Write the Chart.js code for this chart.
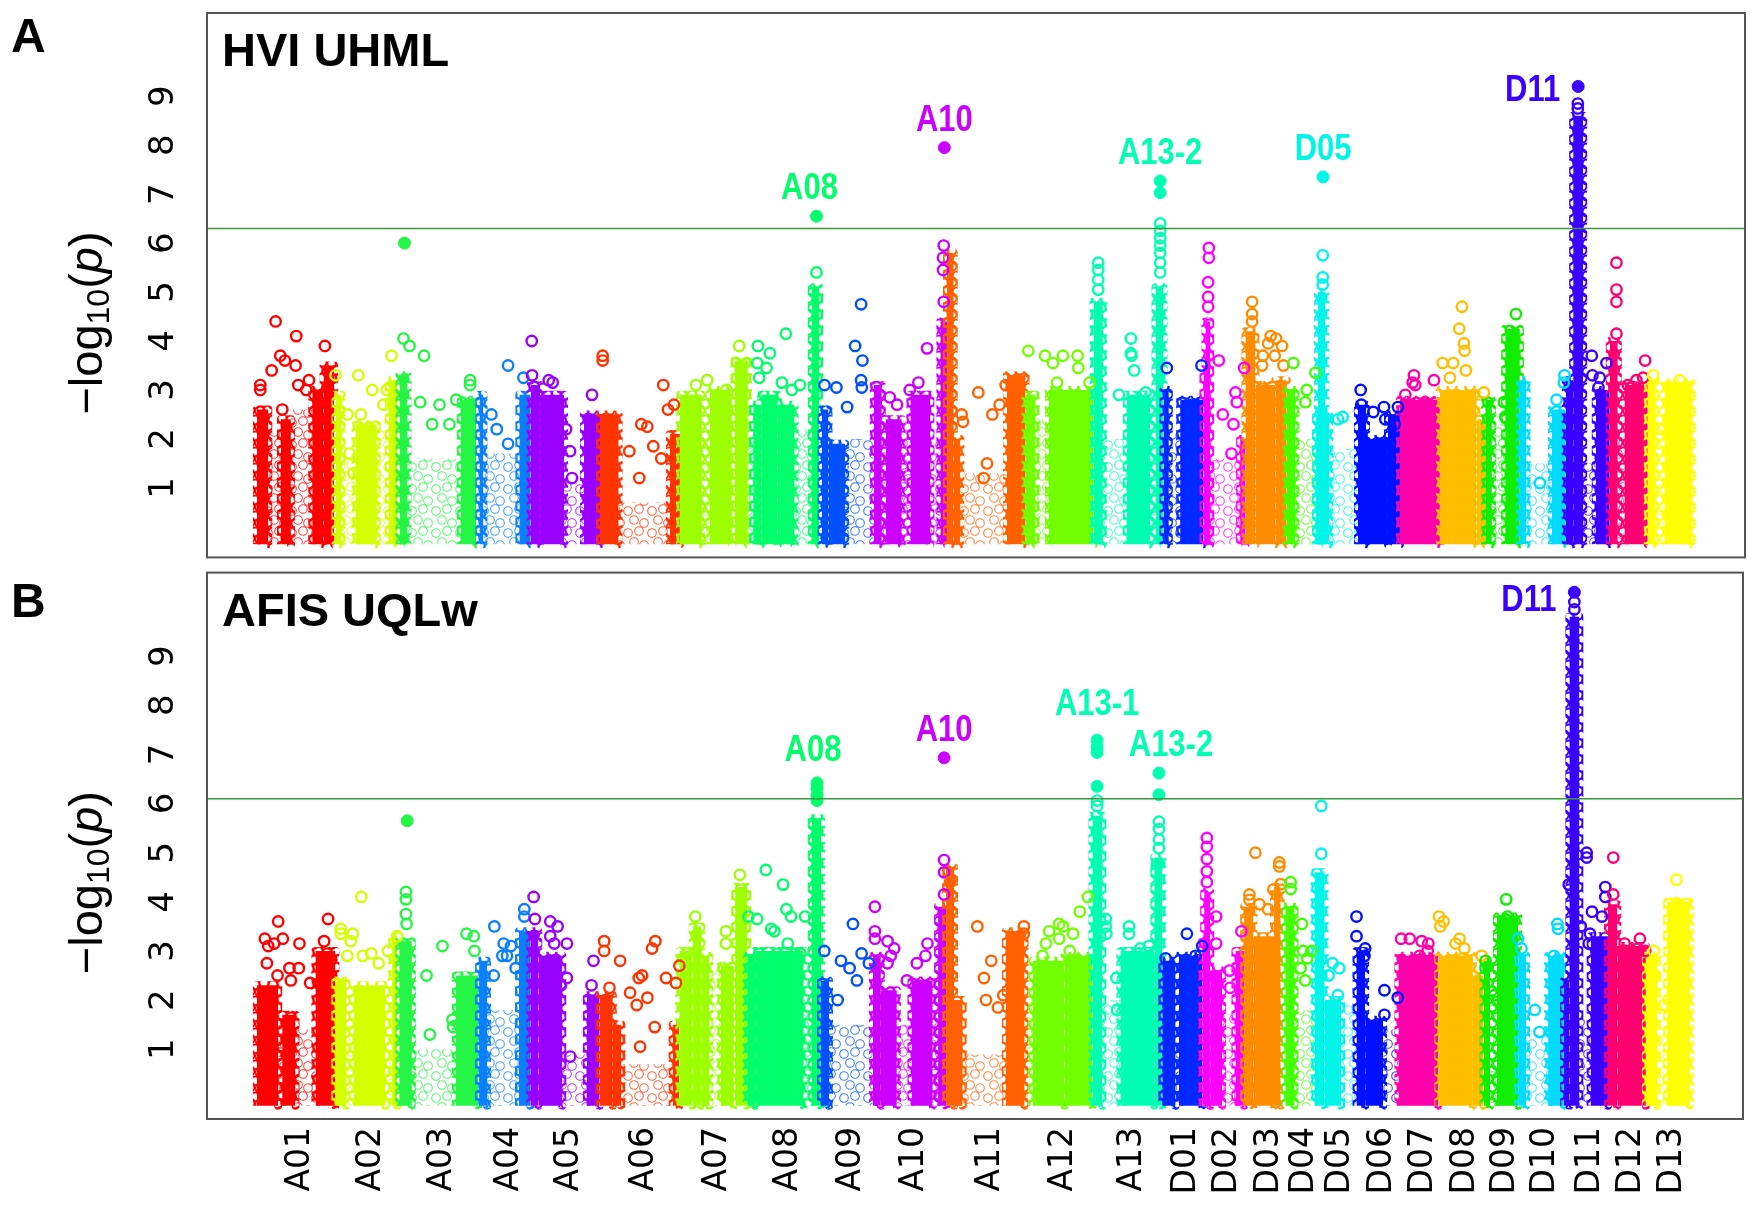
<!DOCTYPE html>
<html>
<head>
<meta charset="utf-8">
<script src="https://cdn.jsdelivr.net/npm/chart.js@4.4.0/dist/chart.umd.min.js"></script>
<style>
  html, body { margin: 0; padding: 0; background: #fff; }
  #wrap { position: relative; width: 1760px; height: 1211px; background: #fff; overflow: hidden; }
  #wrap canvas { position: absolute; left: 0; }
</style>
</head>
<body>
<div id="wrap">
  <canvas id="uhml" width="1760" height="565" style="top:0"></canvas>
  <canvas id="uqlw" width="1760" height="646" style="top:565px"></canvas>
</div>
<script>
const chromosomes = ["A01","A02","A03","A04","A05","A06","A07","A08","A09","A10","A11","A12","A13",
                     "D01","D02","D03","D04","D05","D06","D07","D08","D09","D10","D11","D12","D13"];
const chromLengthMb = [118,93,123,77,104,120,102,111,78,110,118,102,105,
                       60,63,62,44,63,63,60,68,52,69,66,57,66];
const yTicks = [1,2,3,4,5,6,7,8,9];
const uhmlThreshold = 6.3;
const uqlwThreshold = 6.1;

// HVI UHML: solid runs of markers [chromosome, from Mb, to Mb, top -log10(p)]
const uhmlDense = [
  ["A01",0,17,2.6],["A01",36,51,2.4],["A01",83,100,3.0],["A01",100,116,3.5],
  ["A02",0,9,2.9],["A02",30,62,2.3],["A02",80,93,3.2],
  ["A03",3,15,3.3],["A03",95,118,2.8],
  ["A04",0,6,2.9],["A04",60,77,2.9],
  ["A05",0,14,3.1],["A05",14,50,2.9],["A05",80,104,2.5],
  ["A06",0,28,2.5],["A06",105,120,2.1],
  ["A07",0,33,2.9],["A07",45,78,3.0],["A07",82,102,3.6],
  ["A08",8,20,2.7],["A08",20,45,2.9],["A08",45,70,2.7],["A08",96,107,5.1],
  ["A09",0,10,2.6],["A09",10,35,1.9],
  ["A10",0,12,3.1],["A10",18,42,2.4],["A10",55,85,2.9],["A10",100,110,4.4],
  ["A11",0,10,5.8],["A11",10,20,2.0],["A11",90,118,3.3],
  ["A12",0,15,2.9],["A12",35,102,3.0],
  ["A13",0,14,4.8],["A13",50,85,2.9],["A13",93,105,5.1],
  ["D01",0,8,3.0],["D01",25,60,2.8],
  ["D02",0,8,3.3],["D02",3,10,4.4],["D02",55,63,2.0],
  ["D03",0,15,4.2],["D03",15,45,3.1],["D03",45,62,3.2],
  ["D04",0,13,3.0],
  ["D05",0,20,2.5],["D05",3,14,5.0],
  ["D06",0,12,2.7],["D06",12,45,2.0],["D06",45,63,2.5],
  ["D07",0,60,2.8],
  ["D08",0,55,3.0],["D08",55,68,2.4],
  ["D09",0,10,2.8],["D09",30,52,4.25],
  ["D10",0,10,3.2],["D10",48,69,2.6],
  ["D11",0,11,3.2],["D11",11,26,8.6],["D11",45,66,3.0],
  ["D12",0,12,4.0],["D12",22,57,3.1],
  ["D13",0,12,3.2],["D13",25,66,3.15]
];
// HVI UHML: thinly scattered markers [chromosome, from Mb, to Mb, top]
const uhmlSparse = [
  ["A01",17,36,2.2],["A01",51,83,2.6],["A02",9,30,1.6],["A02",62,80,2.2],
  ["A03",15,95,1.6],["A04",6,60,1.7],["A05",50,80,1.2],["A06",28,105,0.7],
  ["A07",33,45,2.0],["A07",78,82,2.0],["A08",0,8,2.0],["A08",70,96,2.2],
  ["A09",35,78,2.0],["A10",12,18,2.0],["A10",42,55,2.0],["A10",85,100,2.0],
  ["A11",20,90,1.3],["A12",15,35,2.4],["A13",14,50,2.0],["A13",85,93,2.0],
  ["D01",8,25,2.1],["D02",10,55,1.6],["D04",13,44,2.0],["D05",20,63,1.8],
  ["D09",10,30,2.3],["D10",10,48,1.5],["D11",26,45,1.5],["D12",12,22,2.0],
  ["D13",12,25,2.0]
];
// HVI UHML: single markers [chromosome, position Mb, -log10(p)]
const uhmlSpots = [
  ["A01",5,3.1],["A01",5,3.0],["A01",28,4.4],["A01",35,3.7],["A01",42,3.6],["A01",22,3.4],["A01",59,4.1],
  ["A01",58,3.5],["A01",102,3.9],["A01",62,3.1],["A01",78,3.2],["A01",38,2.6],["A01",74,3.0],
  ["A02",0,3.3],["A02",34,3.3],["A02",55,3.0],["A02",77,3.0],["A02",84,3.7],["A02",72,2.7],["A02",18,2.5],
  ["A02",38,2.5],["A02",27,1.3],["A02",21,1.7],
  ["A03",9,4.05],["A03",18,3.9],["A03",40,3.7],["A03",34,2.75],["A03",63,2.7],["A03",88,2.8],["A03",109,3.2],
  ["A03",109,3.1],["A03",78,2.3],["A03",52,2.3],
  ["A04",43,3.5],["A04",66,3.25],["A04",18,2.5],["A04",26,2.2],["A04",43,1.9],
  ["A05",1.5,4.0],["A05",2,3.3],["A05",27,3.2],["A05",33,3.15],["A05",30,2.75],["A05",59,1.75],["A05",62,1.2],
  ["A05",53,2.2],["A05",92,2.9],
  ["A06",4,3.7],["A06",4,3.6],["A06",62,2.3],["A06",71,2.25],["A06",44,1.75],["A06",80,1.85],["A06",95,3.1],
  ["A06",102,2.6],["A06",111,2.7],["A06",92,1.6],["A06",59,1.2],
  ["A07",24,3.1],["A07",41,3.2],["A07",70,3.0],["A07",89,3.9],
  ["A08",15,3.9],["A08",33,3.75],["A08",14,3.55],["A08",28,3.45],["A08",57,4.15],["A08",17,3.25],["A08",51,3.15],
  ["A08",78,3.1],["A08",66,3.0],["A08",103,5.4],
  ["A09",4,3.1],["A09",22,3.05],["A09",38,2.65],["A09",50,3.9],["A09",59,4.75],["A09",61,3.6],["A09",59,3.2],["A09",60,3.05],
  ["A10",24,2.85],["A10",35,2.7],["A10",54,3.0],["A10",67,3.15],["A10",80,3.85],["A10",105,5.95],["A10",104,5.7],
  ["A10",104,5.45],["A10",105,4.8],
  ["A11",47,2.95],["A11",88,3.1],["A11",79,2.7],["A11",68,2.5],["A11",22,2.5],["A11",24,2.35],["A11",60,1.5],["A11",55,1.2],
  ["A12",4,3.8],["A12",29,3.7],["A12",41,3.55],["A12",56,3.7],["A12",78,3.7],["A12",79,3.45],["A12",47,3.15],["A12",96,3.15],
  ["A13",7,5.6],["A13",7,5.45],["A13",7,5.25],["A13",7,5.05],["A13",38,2.9],["A13",56,4.05],["A13",56,3.75],
  ["A13",57,3.7],["A13",61,3.4],["A13",78,2.95],["A13",100,6.4],["A13",100,6.25],["A13",100,6.1],["A13",100,5.95],
  ["A13",100,5.8],["A13",100,5.6],["A13",100,5.4],
  ["D01",5,3.45],["D01",57,3.5],
  ["D02",8,5.9],["D02",8,5.7],["D02",7,5.2],["D02",7,4.9],["D02",7,4.7],["D02",23,3.6],["D02",29,2.5],["D02",45,2.3],
  ["D02",48,2.95],["D02",50,2.75],["D02",61,3.45],["D02",42,1.7],
  ["D03",10,4.8],["D03",10,4.55],["D03",10,4.4],["D03",38,4.1],["D03",46,4.05],["D03",34,3.95],["D03",55,3.9],
  ["D03",26,3.7],["D03",44,3.7],["D03",57,3.5],["D03",25,3.5],
  ["D04",10,3.55],["D04",30,3.0],["D04",28,2.75],["D04",43,3.35],
  ["D05",10,5.75],["D05",10,5.3],["D05",10,5.15],["D05",40,2.45],["D05",33,2.4],
  ["D06",4,3.0],["D06",5,2.7],["D06",23,2.55],["D06",39,2.65],["D06",41,2.4],["D06",55,2.3],["D06",60,2.65],
  ["D07",21,3.3],["D07",19,3.15],["D07",23,3.1],["D07",51,3.2],["D07",38,2.75],["D07",8,2.9],
  ["D08",33,4.7],["D08",29,4.25],["D08",36,3.95],["D08",37,3.8],["D08",4,3.55],["D08",20,3.55],["D08",39,3.4],
  ["D08",15,3.25],["D08",66,2.95],
  ["D09",46,4.55],["D09",28,2.75],["D09",30,2.45],
  ["D10",66,3.15],["D10",67,3.3],["D10",55,2.8],["D10",30,1.1],
  ["D11",39,3.7],["D11",51,3.25],["D11",40,3.3],["D11",49,3.05],["D11",61,3.55],["D11",18,8.85],["D11",18,8.75],
  ["D12",10,5.6],["D12",10,5.05],["D12",10,4.8],["D12",10,4.15],["D12",53,3.6],["D12",27,3.1],["D12",40,3.2],["D12",50,3.25],
  ["D13",8,3.3],["D13",48,3.2],["D13",18,2.2]
];
// HVI UHML: solid (highlighted) markers
const uhmlHits = [
  ["A03",10.5,6.0],["A08",103,6.55],["A10",106,7.95],["A13",100,7.27],["A13",100,7.03],
  ["D05",10.5,7.35],["D11",18.5,9.2]
];
// HVI UHML: labelled peaks [label, chromosome, position Mb, -log10(p)]
const uhmlPeaks = [
  ["A08","A08",103,6.55],["A10","A10",106,7.95],["A13-2","A13",100,7.27],["D05","D05",10.5,7.35],["D11","D11",18.5,9.2]
];

// AFIS UQLw
const uqlwDense = [
  ["A01",0,32,2.3],["A01",38,58,1.7],["A01",88,118,3.0],
  ["A02",0,16,2.4],["A02",28,75,2.3],["A02",85,93,3.3],
  ["A03",3,22,3.2],["A03",88,122,2.5],
  ["A04",0,12,2.8],["A04",60,77,3.4],
  ["A05",0,12,3.4],["A05",12,48,2.9],["A05",85,104,2.1],
  ["A06",0,20,2.1],["A06",20,33,1.5],["A06",110,120,1.5],
  ["A07",0,20,3.0],["A07",20,33,3.5],["A07",33,45,2.9],["A07",62,82,2.7],["A07",84,102,4.3],
  ["A08",0,12,2.9],["A08",12,85,3.0],["A08",97,111,5.7],
  ["A09",0,12,2.4],
  ["A10",0,12,2.9],["A10",12,36,2.2],["A10",58,90,2.4],["A10",98,110,3.9],
  ["A11",0,12,4.7],["A11",12,25,2.0],["A11",90,118,3.4],
  ["A12",12,60,2.8],["A12",60,102,2.9],
  ["A13",0,15,5.75],["A13",42,93,3.0],["A13",93,105,4.9],
  ["D01",0,20,2.8],["D01",25,60,2.9],
  ["D02",0,12,3.2],["D02",3,12,4.2],["D02",12,30,2.6],["D02",50,63,3.0],
  ["D03",0,14,3.9],["D03",14,45,3.3],["D03",45,55,4.3],
  ["D04",0,14,3.9],
  ["D05",0,15,4.6],["D05",15,40,2.0],
  ["D06",0,13,3.0],["D06",13,40,1.6],
  ["D07",0,60,2.9],
  ["D08",0,52,2.9],["D08",52,68,2.5],
  ["D09",0,10,2.8],["D09",20,52,3.7],
  ["D10",0,12,2.9],["D10",45,69,2.9],
  ["D11",0,8,2.4],["D11",8,23,9.8],["D11",40,66,3.3],
  ["D12",0,14,3.95],["D12",14,57,3.1],
  ["D13",0,17,2.9],["D13",32,66,4.0]
];
const uqlwSparse = [
  ["A01",32,38,1.5],["A01",58,88,1.4],["A02",16,28,1.5],["A02",75,85,1.8],
  ["A03",22,88,1.0],["A04",12,60,1.8],["A05",48,85,0.9],["A06",33,110,0.7],
  ["A07",45,62,2.6],["A08",85,97,2.0],["A09",12,78,1.5],["A10",36,58,1.5],
  ["A10",90,98,1.7],["A11",25,90,0.9],["A12",0,12,2.2],["A13",15,42,2.0],
  ["D01",20,25,1.3],["D02",30,50,1.7],["D04",14,44,1.8],["D05",40,63,1.9],
  ["D06",40,63,1.4],["D09",10,20,2.1],["D10",12,45,1.3],["D11",23,40,1.6],
  ["D13",17,32,1.5]
];
const uqlwSpots = [
  ["A01",32,3.6],["A01",12,3.25],["A01",26,3.15],["A01",39,3.25],["A01",17,3.1],["A01",15,2.75],["A01",64,3.15],
  ["A01",107,3.65],["A01",101,3.2],["A01",49,2.65],["A01",63,2.65],["A01",51,2.4],["A01",31,2.5],["A01",80,2.35],
  ["A02",39,4.1],["A02",8,3.45],["A02",8,3.35],["A02",26,3.35],["A02",23,3.2],["A02",54,2.95],["A02",41,2.9],
  ["A02",79,3.0],["A02",93,3.3],["A02",18,2.9],["A02",65,2.75],
  ["A03",13,4.2],["A03",13,4.05],["A03",13,3.75],["A03",14,3.55],["A03",68,3.1],["A03",44,2.5],["A03",83,1.6],
  ["A03",84,1.45],["A03",49,1.3],["A03",104,3.35],["A03",115,3.3],["A03",116,3.0],
  ["A04",23,3.5],["A04",37,3.15],["A04",48,3.1],["A04",42,2.9],["A04",35,2.9],["A04",22,2.5],["A04",55,2.65],
  ["A04",68,3.85],["A04",68,3.7],
  ["A05",5,4.1],["A05",7,3.65],["A05",30,3.6],["A05",41,3.5],["A05",30,3.3],["A05",36,3.15],["A05",55,3.15],
  ["A05",55,2.45],["A05",46,2.3],["A05",95,2.8],["A05",92,2.3],["A05",60,0.85],
  ["A06",7,3.2],["A06",7,3.0],["A06",31,2.8],["A06",15,2.25],["A06",46,2.15],["A06",59,2.45],["A06",64,2.5],
  ["A06",72,2.05],["A06",56,1.9],["A06",84,3.2],["A06",79,3.05],["A06",100,2.45],["A06",83,1.45],["A06",61,1.05],
  ["A06",115,2.35],["A06",120,2.7],
  ["A07",24,3.7],["A07",70,3.4],["A07",70,3.15],["A07",91,4.55],
  ["A08",28,4.65],["A08",54,4.35],["A08",59,3.85],["A08",66,3.7],["A08",87,3.7],["A08",2,3.7],["A08",15,3.65],
  ["A08",36,3.45],["A08",41,3.4],["A08",61,3.15],["A08",80,2.95],
  ["A09",5,3.0],["A09",48,3.55],["A09",30,2.8],["A09",43,2.65],["A09",61,2.95],["A09",54,2.4],["A09",72,2.75],["A09",25,2.0],
  ["A10",3,3.9],["A10",3,3.4],["A10",3,3.25],["A10",22,3.2],["A10",32,3.05],["A10",27,2.9],["A10",22,2.75],
  ["A10",51,2.4],["A10",82,3.15],["A10",66,2.75],["A10",79,2.9],["A10",107,4.85],["A10",107,4.6],["A10",107,4.15],
  ["A11",6,4.4],["A11",47,3.5],["A11",68,2.8],["A11",57,2.45],["A11",60,2.0],["A11",78,1.85],["A11",86,2.1],
  ["A11",117,3.5],["A11",117,3.35],
  ["A12",95,4.1],["A12",83,3.8],["A12",52,3.55],["A12",58,3.5],["A12",37,3.4],["A12",73,3.35],["A12",52,3.25],
  ["A12",32,3.15],["A12",68,3.0],["A12",27,2.9],
  ["A13",7,6.06],["A13",7,5.95],["A13",20,3.65],["A13",20,3.5],["A13",21,3.35],["A13",36,2.45],["A13",37,1.8],
  ["A13",55,3.5],["A13",55,3.35],["A13",72,3.05],["A13",85,3.1],["A13",100,5.63],["A13",100,5.48],["A13",100,5.27],
  ["A13",100,5.09],["A13",97,4.76],
  ["D01",37,3.35],["D01",50,2.9],["D01",60,3.1],["D01",5,2.85],
  ["D02",7,5.3],["D02",7,5.12],["D02",7,4.87],["D02",7,4.62],["D02",7,4.4],["D02",21,3.7],["D02",21,3.15],
  ["D02",41,2.6],["D02",42,2.25],["D02",59,3.4],
  ["D03",8,4.15],["D03",8,4.04],["D03",17,5.0],["D03",23,3.95],["D03",36,3.85],["D03",44,4.25],["D03",53,4.8],
  ["D03",53,4.72],["D03",55,4.36],
  ["D04",8,4.4],["D04",8,4.26],["D04",25,3.55],["D04",33,2.85],["D04",27,3.0],["D04",39,3.0],["D04",23,2.65],["D04",30,2.4],
  ["D05",10,5.95],["D05",10,4.98],["D05",27,2.75],["D05",37,2.65],["D05",21,2.5],["D05",35,2.1],
  ["D06",0,3.7],["D06",0,3.3],["D06",13,3.05],["D06",12,2.9],["D06",42,2.2],["D06",42,1.7],["D06",62,2.05],
  ["D07",4,3.25],["D07",17,3.25],["D07",35,3.2],["D07",45,3.15],["D07",44,3.0],["D07",32,2.9],
  ["D08",1,3.7],["D08",8,3.6],["D08",3,3.5],["D08",32,3.25],["D08",26,3.15],["D08",39,3.05],["D08",37,2.85],
  ["D08",50,2.5],["D08",65,2.9],
  ["D09",3,2.8],["D09",3,2.65],["D09",16,2.1],["D09",34,4.05],["D09",36,3.7],["D09",38,3.55],
  ["D10",0,3.25],["D10",5,3.05],["D10",25,1.8],["D10",32,1.35],["D10",59,3.55],["D10",60,3.45],["D10",54,2.9],["D10",54,2.55],
  ["D11",7,4.35],["D11",34,5.0],["D11",34,4.9],["D11",25,3.5],["D11",42,3.8],["D11",39,3.35],["D11",37,3.15],
  ["D11",62,4.3],["D11",62,4.1],["D11",57,3.7],["D11",15.5,10.1],["D11",15.5,9.95],
  ["D12",8,4.9],["D12",8,4.15],["D12",25,3.15],["D12",48,3.25],["D12",26,3.0],["D12",45,3.05],["D12",56,3.0],["D12",27,2.45],
  ["D13",12,3.0],["D13",14,2.5],["D13",27,1.9],["D13",46,4.45],["D13",46,3.97]
];
const uqlwHits = [
  ["A03",15,5.65],["A08",105,6.42],["A08",105,6.31],["A08",105,6.17],["A08",105,6.06],["A10",107,6.93],
  ["A13",7,7.29],["A13",7,7.15],["A13",7,7.04],["A13",7,6.35],["A13",100,6.62],["A13",100,6.18],["D11",15.5,10.3]
];
const uqlwPeaks = [
  ["A08","A08",105,6.42],["A10","A10",107,6.93],["A13-1","A13",7,7.29],["A13-2","A13",100,6.62],["D11","D11",15.5,10.3]
];

// ---- styling ----
const chromColors = ["#ff0000","#d4ff00","#25f545","#0a80ff","#9900ff","#ff3300","#9dff00","#00ff6a","#0050ff",
                     "#cc00ff","#ff6000","#72ff00","#00ffb0","#0028ff","#ff00ff","#ff8c00","#44ff00","#00f5e8",
                     "#0010ff","#ff00aa","#ffbf00","#11ee00","#00dcff","#3a00ff","#ff0070","#ffff00"];
const BASE = -0.15;
const LABEL_SHIFT = 7; // chromosome names sit a little right of the centre

const offsets = {};
const colorOf = {};
let genomeEnd = 0;
chromosomes.forEach((c, i) => {
  offsets[c] = genomeEnd;
  colorOf[c] = chromColors[i];
  genomeEnd += chromLengthMb[i];
});
const X_MIN = -75, X_MAX = genomeEnd + 80;

// tile of open rings, drawn wrapped so the pattern is seamless
function ringPattern(color, spots, w, h, r, lw, alpha) {
  const t = document.createElement("canvas");
  t.width = w; t.height = h;
  const g = t.getContext("2d");
  g.strokeStyle = color;
  g.lineWidth = lw;
  g.globalAlpha = alpha;
  spots.forEach(([cx, cy]) => {
    for (const dx of [-w, 0, w]) for (const dy of [-h, 0, h]) {
      g.beginPath();
      g.arc(cx + dx, cy + dy, r, 0, Math.PI * 2);
      g.stroke();
    }
  });
  return g.createPattern(t, "repeat");
}
const sparseFill = {}, denseEdge = {};
chromosomes.forEach(c => {
  sparseFill[c] = ringPattern(colorOf[c], [[4, 5], [15, 3], [10, 14], [20, 17]], 24, 22, 4.3, 1.1, 0.75);
  denseEdge[c] = ringPattern(colorOf[c], [[3, 4], [12, 2], [8, 11], [16, 10]], 18, 16, 4.6, 2.0, 1);
});

function blockSets(rows, sparse) {
  return rows.map(([c, from, to, top]) => {
    const x0 = offsets[c] + from, x1 = offsets[c] + to;
    const idx = chromosomes.indexOf(c);
    return {
      type: "line",
      data: [{x: x0, y: BASE}, {x: x0, y: top}, {x: x1, y: top}, {x: x1, y: BASE}],
      borderColor: sparse ? "rgba(0,0,0,0)" : denseEdge[c],
      borderWidth: sparse ? 0 : 8,
      borderJoinStyle: "round",
      backgroundColor: sparse ? sparseFill[c] : colorOf[c],
      fill: {value: BASE},
      pointRadius: 0,
      tension: 0,
      order: (sparse ? 200 : 100) - idx
    };
  });
}

function markerSet(rows, filled) {
  return {
    type: "scatter",
    data: rows.map(([c, p, v]) => ({x: offsets[c] + p, y: v})),
    pointRadius: filled ? 6 : 5.2,
    pointBorderWidth: filled ? 1 : 2.4,
    pointBorderColor: rows.map(r => colorOf[r[0]]),
    pointBackgroundColor: filled ? rows.map(r => colorOf[r[0]]) : "rgba(0,0,0,0)",
    showLine: false,
    order: filled ? 1 : 2
  };
}

function thresholdSet(v) {
  return {
    type: "line",
    data: [{x: X_MIN, y: v}, {x: X_MAX, y: v}],
    borderColor: "#3d963d",
    borderWidth: 1.5,
    pointRadius: 0,
    fill: false,
    order: 0
  };
}

function drawYTitle(ctx, cx, cy) {
  const fam = "'Liberation Sans', Arial, sans-serif";
  const parts = [
    ["\u2212log", "47px " + fam, 0],
    ["10", "32px " + fam, 7],
    ["(", "47px " + fam, 0],
    ["p", "italic 47px " + fam, 0],
    [")", "47px " + fam, 0]
  ];
  let total = 0;
  const widths = parts.map(([t, f]) => { ctx.font = f; const w = ctx.measureText(t).width; total += w; return w; });
  ctx.save();
  ctx.translate(cx, cy);
  ctx.rotate(-Math.PI / 2);
  ctx.fillStyle = "#000";
  ctx.textAlign = "left";
  ctx.textBaseline = "alphabetic";
  let xx = -total / 2;
  parts.forEach(([t, f, dy], i) => {
    ctx.font = f;
    ctx.fillText(t, xx, dy);
    xx += widths[i];
  });
  ctx.restore();
}

const panelDecor = {
  id: "panelDecor",
  afterDatasetsDraw(chart, args, opts) {
    const {ctx, chartArea: a, scales: {x, y}} = chart;
    ctx.save();
    ctx.strokeStyle = "#555";
    ctx.lineWidth = 2;
    ctx.strokeRect(a.left, a.top, a.right - a.left, a.bottom - a.top);

    ctx.font = "bold 36px 'Liberation Sans', Arial, sans-serif";
    opts.peaks.forEach(([label, c, p, v]) => {
      const px = x.getPixelForValue(offsets[c] + p);
      const py = y.getPixelForValue(v);
      const [dx, dy] = opts.nudge[label] || [0, 0];
      ctx.fillStyle = colorOf[c];
      ctx.save();
      if (opts.sideways.includes(label)) {
        ctx.translate(px - 18 + dx, py + 5 + dy);
        ctx.textAlign = "right";
        ctx.textBaseline = "middle";
      } else {
        ctx.translate(px + dx, py - 17 + dy);
        ctx.textAlign = "center";
        ctx.textBaseline = "alphabetic";
      }
      ctx.scale(0.86, 1);
      ctx.fillText(label, 0, 0);
      ctx.restore();
    });

    ctx.fillStyle = "#000";
    ctx.textAlign = "left";
    ctx.textBaseline = "alphabetic";
    ctx.font = "bold 47px 'Liberation Sans', Arial, sans-serif";
    ctx.fillText(opts.title, a.left + 15, a.top + 53);
    ctx.font = "bold 48px 'Liberation Sans', Arial, sans-serif";
    ctx.fillText(opts.letter, 11, 52);
    ctx.restore();

    drawYTitle(ctx, 102, a.top + 310);
  }
};

function makeChart(canvasId, opts) {
  const datasets = [
    thresholdSet(opts.threshold),
    markerSet(opts.hits, true),
    markerSet(opts.spots, false),
    ...blockSets(opts.dense, false),
    ...blockSets(opts.sparse, true)
  ];
  return new Chart(document.getElementById(canvasId), {
    type: "line",
    data: {datasets},
    options: {
      responsive: false,
      animation: false,
      devicePixelRatio: 1,
      layout: {padding: opts.padding},
      plugins: {
        legend: {display: false},
        tooltip: {enabled: false},
        panelDecor: {
          peaks: opts.peaks, title: opts.title, letter: opts.letter,
          sideways: ["D11"], nudge: opts.nudge || {}
        }
      },
      scales: {
        x: {
          type: "linear",
          min: X_MIN,
          max: X_MAX,
          display: opts.showX,
          grid: {display: false, drawTicks: false},
          border: {display: false},
          afterBuildTicks: s => {
            s.ticks = chromosomes.map((c, i) => ({value: offsets[c] + chromLengthMb[i] / 2 + LABEL_SHIFT}));
          },
          afterFit: s => {
            s.height = opts.showX ? 92 : 0;
            s.paddingLeft = 0;
            s.paddingRight = 0;
          },
          ticks: {
            autoSkip: false,
            maxRotation: 90,
            minRotation: 90,
            padding: 8,
            color: "#000",
            font: {family: "'DejaVu Sans', sans-serif", size: 33},
            callback: (v, i) => chromosomes[i]
          }
        },
        y: {
          type: "linear",
          min: -0.42,
          max: 10.7,
          grid: {display: false, drawTicks: true, tickLength: 32},
          border: {display: false},
          afterBuildTicks: s => { s.ticks = yTicks.map(v => ({value: v})); },
          afterFit: s => {
            s.width = 90;
            s.paddingTop = 0;
            s.paddingBottom = 0;
          },
          ticks: {
            minRotation: 90,
            maxRotation: 90,
            crossAlign: "center",
            padding: 0,
            color: "#000",
            font: {family: "'DejaVu Sans', sans-serif", size: 34},
            callback: v => String(v)
          }
        }
      }
    },
    plugins: [panelDecor]
  });
}

makeChart("uhml", {
  threshold: uhmlThreshold, dense: uhmlDense, sparse: uhmlSparse, spots: uhmlSpots, hits: uhmlHits,
  peaks: uhmlPeaks, title: "HVI UHML", letter: "A", showX: false, nudge: {"A08": [-7, 0]},
  padding: {top: 13, bottom: 7, left: 117, right: 15}
});
makeChart("uqlw", {
  threshold: uqlwThreshold, dense: uqlwDense, sparse: uqlwSparse, spots: uqlwSpots, hits: uqlwHits,
  peaks: uqlwPeaks, title: "AFIS UQLw", letter: "B", showX: true,
  nudge: {"A13-2": [12, 0], "A13-1": [0, -8], "A08": [-4, -5], "D11": [0, 4]},
  padding: {top: 5, bottom: 0, left: 117, right: 17}
});
</script>
</body>
</html>
